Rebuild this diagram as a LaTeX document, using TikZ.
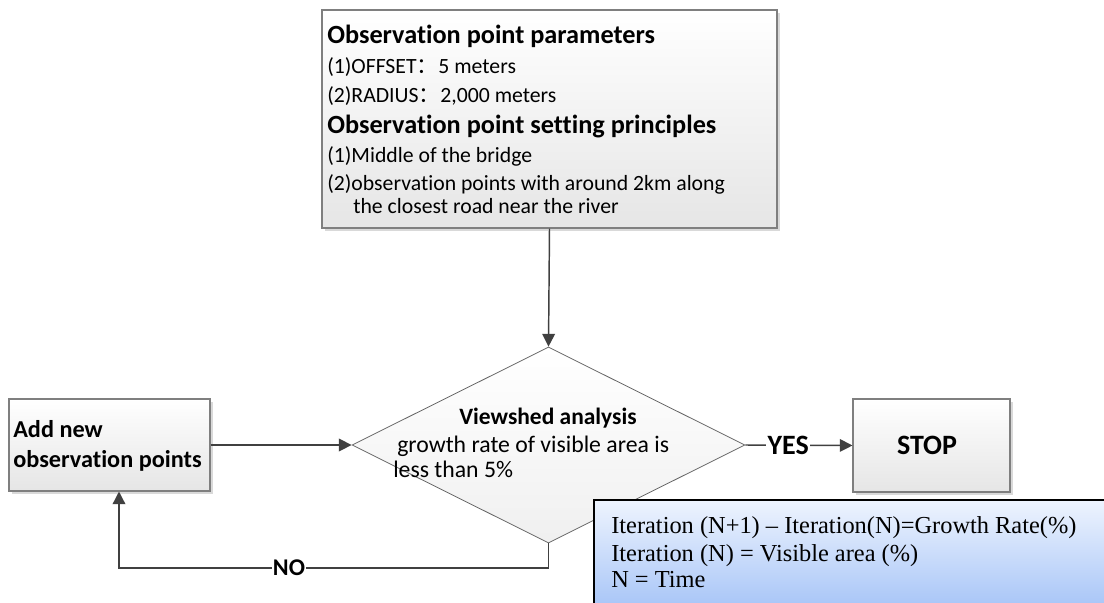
\documentclass[tikz,border=0pt]{standalone}
\usepackage{fontspec}
\setmainfont{Carlito}[RawFeature={-liga}]
\newfontfamily\timesf{Liberation Serif}
\newfontfamily\cjk{Noto Sans CJK SC}
\usetikzlibrary{arrows.meta,shapes.geometric,shadows}
\definecolor{linec}{HTML}{404040}
\definecolor{borderc}{HTML}{7F7F7F}
\definecolor{bluetop}{HTML}{EEF4FE}
\definecolor{bluebot}{HTML}{A6C4F7}
\tikzset{
  box/.style={draw=borderc, line width=0.8pt, rectangle, top color=white, bottom color=black!10,
    drop shadow={shadow xshift=2pt, shadow yshift=-2pt, fill=black!25, opacity=0.6}, inner sep=0pt},
  dia/.style={draw=black!60, line width=0.6pt, diamond, top color=white, bottom color=black!6, inner sep=0pt},
  conn/.style={draw=linec, line width=1.1pt, -{Triangle[length=9.5pt,width=9.5pt]}},
  hd/.style={font=\fontsize{19.7}{22}\selectfont\bfseries, inner sep=0pt, anchor=base west},
  tx/.style={font=\fontsize{16.3}{20}\selectfont, inner sep=0pt, anchor=base west},
  dtx/.style={font=\fontsize{17.8}{20}\selectfont, inner sep=0pt, anchor=base west},
  bd/.style={font=\fontsize{18.2}{20}\selectfont\bfseries, inner sep=0pt},
  lab/.style={font=\fontsize{18}{20}\selectfont\bfseries, fill=white, inner sep=1pt},
  tm/.style={font=\fontsize{18.3}{20}\selectfont\timesf, inner sep=0pt, anchor=base west}
}
\begin{document}
\begin{tikzpicture}[x=0.75pt,y=-0.75pt]
\useasboundingbox (0,0) rectangle (1104,603);
% top box
\node[box, minimum width=341.25pt, minimum height=163.5pt] (top) at (549.5,119) {};
\node[hd] (t1) at (327,43) {Observation point parameters};
\node[tx] (t2) at (327,73) {(1)OFFSET{\cjk：}5 meters};
\node[tx] (t3) at (327,102) {(2)RADIUS{\cjk：}2,000 meters};
\node[hd] (t4) at (327,133) {Observation point setting principles};
\node[tx] (t5) at (327,162) {(1)Middle of the bridge};
\node[tx] (t6) at (327,190) {(2)observation points with around 2km along};
\node[tx] (t7) at (353,213) {the closest road near the river};
% diamond
\node[dia, minimum width=294.75pt, minimum height=147pt] (d) at (548.5,445) {};
\node[bd, anchor=base, font=\fontsize{17.6}{20}\selectfont\bfseries] (d1) at (548,424) {Viewshed analysis};
\node[dtx] (d2) at (397,452) {growth rate of visible area is};
\node[dtx] (d3) at (393,477) {less than 5\%};
% left box
\node[box, minimum width=150.75pt, minimum height=69pt] (lb) at (109.5,445) {};
\node[bd, anchor=base west] (l1) at (13,437) {Add new};
\node[bd, anchor=base west] (l2) at (13,467) {observation points};
% stop box
\node[box, minimum width=117.75pt, minimum height=69.75pt] (stop) at (931.5,445.5) {};
\node[bd, font=\fontsize{21}{22}\selectfont\bfseries] (s1) at (927,445.5) {STOP};
% connectors
\draw[conn] (top.south) -- (d.north);
\draw[conn] (lb.east) -- (d.west);
\draw[conn] (d.east) -- node[lab, pos=0.4, font=\fontsize{21}{22}\selectfont\bfseries] (yes) {YES} (stop.west);
\coordinate (nocorner) at (119,568);
\draw[conn] (d.south) |- (nocorner) -- (nocorner |- lb.south);
\node[lab] (no) at (289,568) {NO};
% blue note
\path[draw=black, line width=1.6pt, top color=bluetop, bottom color=bluebot] (594,500) rectangle (1110,610);
\node[tm] (b1) at (611,533) {Iteration (N+1) – Iteration(N)=Growth Rate(\%)};
\node[tm] (b2) at (611,561) {Iteration (N) = Visible area (\%)};
\node[tm] (b3) at (611,587) {N = Time};
\end{tikzpicture}
\end{document}
